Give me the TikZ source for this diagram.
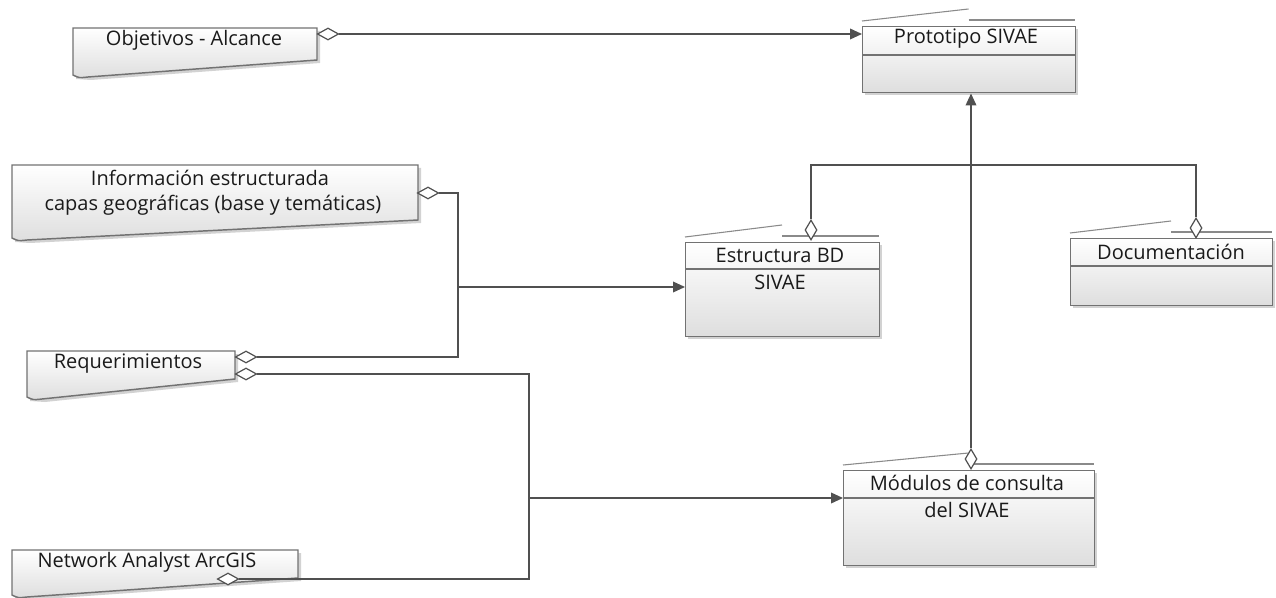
\documentclass[tikz,border=0pt]{standalone}
\usepackage{fontspec}
\setmainfont{Open Sans}
\usetikzlibrary{shapes.geometric,arrows.meta}
\definecolor{linec}{HTML}{505050}
\definecolor{bordc}{HTML}{727272}
\definecolor{shadc}{HTML}{D2D2D2}
\definecolor{tabc}{HTML}{8A8A8A}
\definecolor{botc}{HTML}{DEDEDE}
\definecolor{txtc}{HTML}{1A1A1A}
\newcommand\docbox[5]{% L T R Rb Lb
  \fill[shadc] ({#1+3},{#2+3}) -- ({#3+3},{#2+3}) -- ({#3+3},{#4+3}) -- ({#1+18},{#5+3}) -- ({#1+3},{#5+2}) -- cycle;
  \draw[bordc, line width=1.1pt, top color=white, bottom color=botc] (#1,#2) -- (#3,#2) -- (#3,#4) -- ({#1+15},{#5}) .. controls ({#1+6},{#5+1}) .. (#1,{#5-2}) -- cycle;
}
\newcommand\clsbox[6]{% name L T R B D
  \fill[shadc] ({#2+3},{#3+3}) rectangle ({#4+3},{#5+3});
  \node[clsnode, anchor=north west, minimum width={(#4-#2)*0.75pt}, minimum height={(#5-#3)*0.75pt}] (#1) at (#2,#3) {};
  \draw[bordc, line width=0.9pt] (#2,#6) -- (#4,#6);
  \draw[tabc, line width=0.8pt] (#2,{#3-5}) -- ({(#2+#4)/2},{#3-17});
  \draw[tabc, line width=0.8pt] ({(#2+#4)/2},{#3-6}) -- (#4,{#3-6});
}
\begin{document}
\begin{tikzpicture}[x=0.75pt,y=-0.75pt,
  conn/.style={draw=linec, line width=1.1pt},
  arr/.style={conn, -{Triangle[length=9pt,width=8pt]}},
  dmdh/.style={diamond, draw=linec, fill=white, line width=0.9pt, inner sep=0pt, minimum width=16pt, minimum height=9pt},
  dmdv/.style={diamond, draw=linec, fill=white, line width=0.9pt, inner sep=0pt, minimum width=9pt, minimum height=15pt},
  clsnode/.style={rectangle, draw=bordc, line width=1.1pt, top color=white, bottom color=botc, inner sep=0pt},
  lbl/.style={font=\fontsize{15}{17}\selectfont, text=txtc, inner sep=0pt}]
\fill[white] (0,0) rectangle (1276,598);
\useasboundingbox (0,0) rectangle (1276,598);

% document shapes
\docbox{73}{28}{317}{60}{77}
\docbox{12}{165}{418}{220}{240}
\docbox{27}{351}{235}{379}{399}
\docbox{12}{550}{298}{578}{597}

% class boxes
\clsbox{proto}{862}{26}{1075}{92}{55}
\clsbox{est}{685}{242}{879}{336}{269}
\clsbox{doc}{1070}{238}{1272}{305}{266}
\clsbox{mod}{843}{470}{1094}{565}{498}

% diamonds
\node[dmdh] (d1) at (328,34) {};
\node[dmdh] (d2) at (428,193) {};
\node[dmdh] (d3) at (246,357) {};
\node[dmdh] (d4) at (246,374) {};
\node[dmdh] (d5) at (228,579) {};
\node[dmdv] (d6) at (811,230) {};
\node[dmdv] (d7) at (1196,228) {};
\node[dmdv] (d8) at (971,459) {};

\coordinate (j1) at (458,287);
\coordinate (j2) at (529,498);
\coordinate (j3) at (971,165);

% connectors
\draw[arr] (d1.east) -- (d1.east -| proto.west);
\draw[conn] (d2.east) -| (j1) |- (d3.east);
\draw[arr] (j1) -- (j1 -| est.west);
\draw[conn] (d4.east) -| (j2) |- (d5.east);
\draw[arr] (j2) -- (j2 -| mod.west);
\draw[conn] (d6.north) |- (j3) -| (d7.north);
\draw[arr] (d8.north) -- (d8.north |- proto.south);

% labels
\node[lbl] (t1) at (194,40) {Objetivos - Alcance};
\node[lbl] (t2) at (966,39) {Prototipo SIVAE};
\node[lbl] (t3) at (210,178) {Información estructurada};
\node[lbl] (t4) at (213,205) {capas geográficas (base y temáticas)};
\node[lbl] (t5) at (780,255) {Estructura BD};
\node[lbl] (t6) at (780,282) {SIVAE};
\node[lbl] (t7) at (1171,252) {Documentación};
\node[lbl] (t8) at (128,364) {Requerimientos};
\node[lbl] (t9) at (967,483) {Módulos de consulta};
\node[lbl] (t10) at (967,510) {del SIVAE};
\node[lbl] (t11) at (147,562) {Network Analyst ArcGIS};
\end{tikzpicture}
\end{document}
